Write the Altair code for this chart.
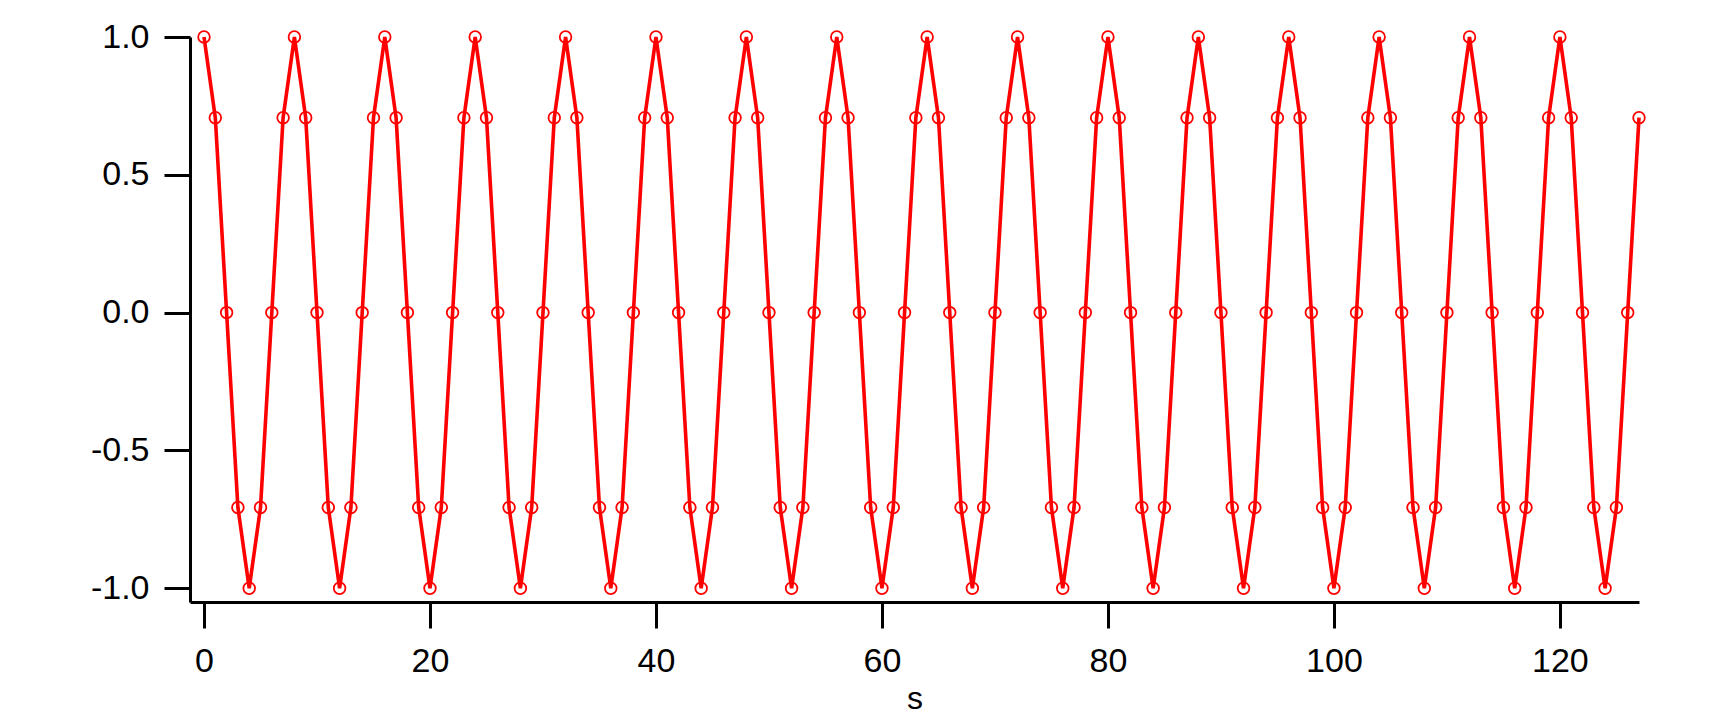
import altair as alt
import pandas as pd

s_values = list(range(128))
y_values = [
    1.0, 0.7071, 0.0, -0.7071, -1.0, -0.7071, 0.0, 0.7071,
    1.0, 0.7071, 0.0, -0.7071, -1.0, -0.7071, 0.0, 0.7071,
    1.0, 0.7071, 0.0, -0.7071, -1.0, -0.7071, 0.0, 0.7071,
    1.0, 0.7071, 0.0, -0.7071, -1.0, -0.7071, 0.0, 0.7071,
    1.0, 0.7071, 0.0, -0.7071, -1.0, -0.7071, 0.0, 0.7071,
    1.0, 0.7071, 0.0, -0.7071, -1.0, -0.7071, 0.0, 0.7071,
    1.0, 0.7071, 0.0, -0.7071, -1.0, -0.7071, 0.0, 0.7071,
    1.0, 0.7071, 0.0, -0.7071, -1.0, -0.7071, 0.0, 0.7071,
    1.0, 0.7071, 0.0, -0.7071, -1.0, -0.7071, 0.0, 0.7071,
    1.0, 0.7071, 0.0, -0.7071, -1.0, -0.7071, 0.0, 0.7071,
    1.0, 0.7071, 0.0, -0.7071, -1.0, -0.7071, 0.0, 0.7071,
    1.0, 0.7071, 0.0, -0.7071, -1.0, -0.7071, 0.0, 0.7071,
    1.0, 0.7071, 0.0, -0.7071, -1.0, -0.7071, 0.0, 0.7071,
    1.0, 0.7071, 0.0, -0.7071, -1.0, -0.7071, 0.0, 0.7071,
    1.0, 0.7071, 0.0, -0.7071, -1.0, -0.7071, 0.0, 0.7071,
    1.0, 0.7071, 0.0, -0.7071, -1.0, -0.7071, 0.0, 0.7071,
]
x_ticks = [0, 20, 40, 60, 80, 100, 120]
y_ticks = [-1.0, -0.5, 0.0, 0.5, 1.0]

df = pd.DataFrame({"s": s_values, "y": y_values})

FONT = "Liberation Sans"

x_enc = alt.X(
    "s:Q",
    title="s",
    scale=alt.Scale(domain=[-1.24, 127], nice=False, zero=False),
    axis=alt.Axis(
        values=x_ticks, grid=False, labelPadding=16,
        titleFont=FONT, titleFontSize=32, titleFontWeight="normal",
        titleColor="black", titlePadding=5,
    ),
)
y_enc = alt.Y(
    "y:Q",
    title=None,
    scale=alt.Scale(domain=[-1.05, 1.0], nice=False, zero=False),
    axis=alt.Axis(
        values=y_ticks, grid=False, labelPadding=15,
        labelExpr="datum.value < 0 ? '-' + format(-datum.value, '.1f') : format(datum.value, '.1f')",
    ),
)

base = alt.Chart(df).encode(x=x_enc, y=y_enc)
line = base.mark_line(color="#ff0000", strokeWidth=3.6)
points = base.mark_point(
    shape="circle", color="#ff0000", filled=False, size=135, strokeWidth=1.8, opacity=1
)

chart = (
    alt.layer(line, points)
    .properties(
        width=1449, height=565,
        background="white",
        autosize=alt.AutoSizeParams(type="none"),
        padding={"left": 182, "top": 29, "right": 70, "bottom": 113},
    )
    .configure_axis(
        grid=False, domainColor="black", domainWidth=3, tickColor="black",
        tickWidth=3, tickSize=26, labelFontSize=34, labelColor="black",
        labelFont=FONT,
    )
    .configure_view(strokeWidth=0)
)

chart.save("out.html", embed_options={"renderer": "svg", "actions": False})
